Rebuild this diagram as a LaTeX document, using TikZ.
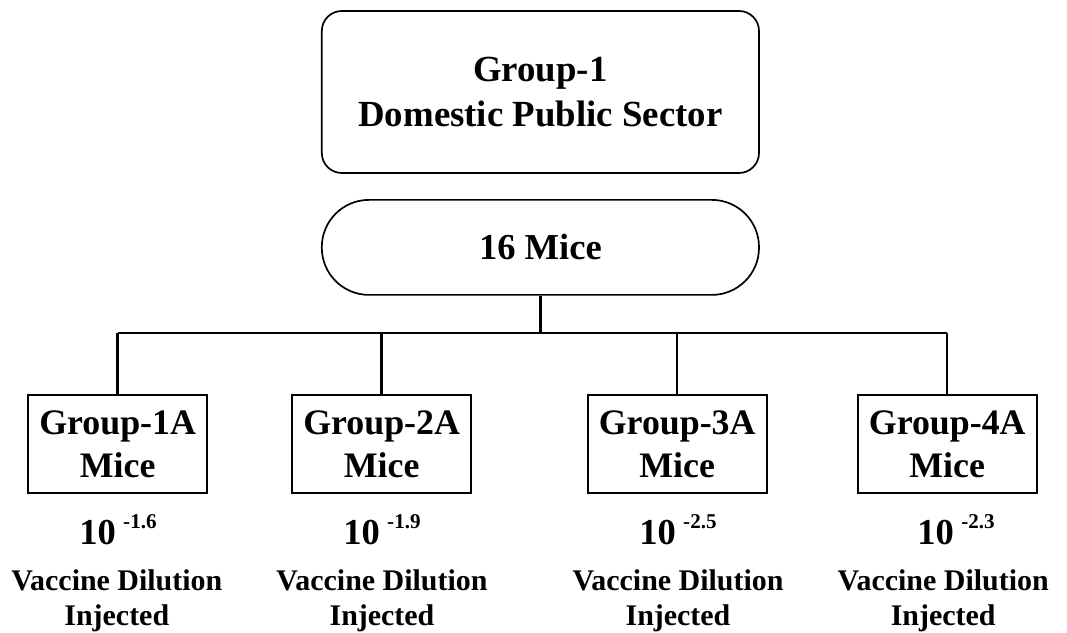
\documentclass[tikz,border=0pt]{standalone}
\usepackage{fontspec}
\setmainfont{Liberation Serif}
\usepackage{tikz}
\usetikzlibrary{positioning,calc}

\begin{document}
\begin{tikzpicture}[x=1cm,y=1cm,
	headbox/.style={draw,line width=1.2pt,rounded corners=0.5cm,minimum width=10.93cm,minimum height=4.05cm,align=center,font=\fontsize{26.2}{31.5}\selectfont\bfseries},
	micebox/.style={draw,line width=1.2pt,rounded corners=1.18cm,minimum width=10.93cm,minimum height=2.375cm,font=\fontsize{26}{31}\selectfont\bfseries},
	groupbox/.style={draw,line width=1.2pt,minimum width=4.475cm,minimum height=2.45cm,align=center,inner sep=1pt,font=\fontsize{25.5}{30.5}\selectfont\bfseries},
	dose/.style={anchor=base,font=\fontsize{26}{30}\selectfont\bfseries},
	note/.style={align=center,font=\fontsize{21.3}{25}\selectfont\bfseries},
	link/.style={line width=1.6pt}]
			\useasboundingbox (0,0) rectangle (26.675,15.825);
			
			\node[headbox] (head) at (13.51,13.525) {Group-1\\Domestic Public Sector};
			\node[micebox] (mice) at (13.51,9.64) {16 Mice};
			
			\coordinate (bus) at (13.51,7.5);
			
			\node[groupbox] (g1) at (2.94,4.725) {Group-1A\\Mice};
			\node[groupbox] (g2) at (9.54,4.725) {Group-2A\\Mice};
			\node[groupbox] (g3) at (16.93,4.725) {Group-3A\\Mice};
			\node[groupbox] (g4) at (23.68,4.725) {Group-4A\\Mice};
			
			\draw[link] (mice.south) -- (bus);
			\draw[link] (g1.north |- bus) -- (g4.north |- bus);
			\foreach \i in {1,...,4}
				\draw[link] (g\i.north |- bus) -- (g\i.north);
			
			% dilutions
			\node[dose] (d1) at (2.95,2.2) {10\hspace{0.2em}\raisebox{12pt}{\fontsize{15}{15}\selectfont -1.6}};
			\node[dose] (d2) at (9.55,2.2) {10\hspace{0.2em}\raisebox{12pt}{\fontsize{15}{15}\selectfont -1.9}};
			\node[dose] (d3) at (16.95,2.2) {10\hspace{0.2em}\raisebox{12pt}{\fontsize{15}{15}\selectfont -2.5}};
			\node[dose] (d4) at (23.9,2.2) {10\hspace{0.2em}\raisebox{12pt}{\fontsize{15}{15}\selectfont -2.3}};
			
			\node[note] (n1) at (2.92,0.8) {Vaccine Dilution\\Injected};
			\node[note] (n2) at (9.55,0.8) {Vaccine Dilution\\Injected};
			\node[note] (n3) at (16.95,0.8) {Vaccine Dilution\\Injected};
			\node[note] (n4) at (23.58,0.8) {Vaccine Dilution\\Injected};
			
		\end{tikzpicture}
\end{document}
